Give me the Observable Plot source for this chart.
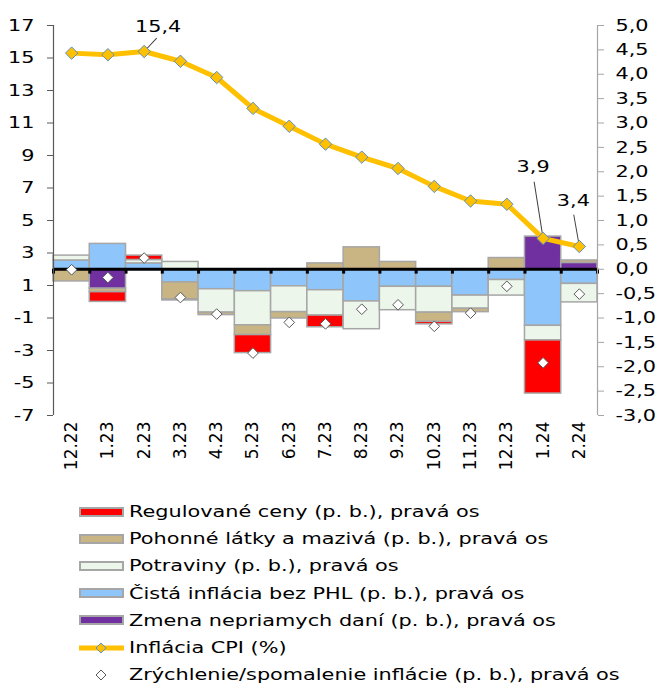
<!DOCTYPE html>
<html><head><meta charset="utf-8">
<script src="https://cdn.jsdelivr.net/npm/d3@7"></script>
<script src="https://cdn.jsdelivr.net/npm/@observablehq/plot@0.6"></script>
<style>
body{margin:0;background:#fff;font-family:"DejaVu Sans",Verdana,sans-serif;}
#legend{padding-left:79px;padding-top:8px;}
.row{display:flex;align-items:center;height:27.2px;font-size:16px;color:#000;white-space:nowrap;}
.row span{display:inline-block;transform:scaleX(1.3);transform-origin:0 50%;}
.sw{width:45px;height:10px;margin-right:5px;box-sizing:border-box;border:2px solid #a6a6a6;flex:none;}
.sv{width:45px;height:14px;margin-right:5px;flex:none;}
</style></head><body><div id="chart"></div><div id="legend"></div>
<script>
// ---- data ----
const categories = ["12.22","1.23","2.23","3.23","4.23","5.23","6.23","7.23","8.23","9.23","10.23","11.23","12.23","1.24","2.24"];
const regulovaneCeny = [0, -0.20, 0.09, -0.02, 0, -0.37, 0, -0.24, 0, 0, -0.05, 0, 0, -1.09, 0];
const pohonneLatky   = [-0.25, -0.07, 0, -0.35, -0.05, -0.20, -0.13, 0.12, 0.45, 0.15, -0.19, -0.07, 0.23, 0, 0.05];
const potraviny      = [0.10, 0, 0.07, 0.15, -0.48, -0.70, -0.53, -0.52, -0.57, -0.48, -0.53, -0.27, -0.32, -0.30, -0.38];
const cistaInflacia  = [0.18, 0.52, 0.12, -0.27, -0.41, -0.45, -0.35, -0.43, -0.66, -0.36, -0.36, -0.54, -0.22, -1.16, -0.30];
const zmenaDani      = [0, -0.40, 0, 0, 0, 0, 0, 0, 0, 0, 0, 0, 0, 0.67, 0.13];
const zrychlenie     = [-0.01, -0.17, 0.23, -0.58, -0.92, -1.72, -1.09, -1.12, -0.82, -0.73, -1.17, -0.90, -0.35, -1.92, -0.51];
const inflaciaCPI    = [15.3, 15.2, 15.4, 14.8, 13.8, 11.9, 10.8, 9.7, 8.9, 8.2, 7.1, 6.2, 6.0, 3.9, 3.4];
const leftTicks  = [17, 15, 13, 11, 9, 7, 5, 3, 1, -1, -3, -5, -7];
const rightTicks = [5, 4.5, 4, 3.5, 3, 2.5, 2, 1.5, 1, 0.5, 0, -0.5, -1, -1.5, -2, -2.5, -3];
const annotCats   = ["2.23", "1.24", "2.24"];
const annotLabels = ["15,4", "3,9", "3,4"];

// ---- series definitions (stack order from zero outward) ----
const series = [
  {name: "Zmena nepriamych daní (p. b.), pravá os", values: zmenaDani, color: "#7030a0"},
  {name: "Čistá inflácia bez PHL (p. b.), pravá os", values: cistaInflacia, color: "#8ec5fa"},
  {name: "Potraviny (p. b.), pravá os", values: potraviny, color: "#ecf6ea"},
  {name: "Pohonné látky a mazivá (p. b.), pravá os", values: pohonneLatky, color: "#c9b483"},
  {name: "Regulované ceny (p. b.), pravá os", values: regulovaneCeny, color: "#ff0000"}
];
const bars = [];
categories.forEach((c, i) => series.forEach(s => { if (s.values[i] !== 0) bars.push({i, c, key: s.name, v: s.values[i]}); }));
const points = categories.map((c, i) => ({i, c, cpi: inflaciaCPI[i], acc: zrychlenie[i]}));
const annots = annotCats.map((c, k) => { const i = categories.indexOf(c); return {i, c, cpi: inflaciaCPI[i], label: annotLabels[k]}; });
// annotation placement styles (pixels)
const annotStyle = [{dx: 14, dy: -25, len: 18, rot: 43}, {dx: -10, dy: -72, len: 57, rot: -9}, {dx: -6, dy: -46, len: 32, rot: -10}];

const toRight = v => (v - 2) / 3;   // left axis (%) -> right axis (p. b.)
const cx = d => d.i + 0.5;
const lineShape = {draw(ctx, l) { ctx.moveTo(0, 0); ctx.lineTo(0, -l); }};

const chart = Plot.plot({
  width: 659, height: 490,
  marginLeft: 53, marginRight: 62, marginTop: 25, marginBottom: 75,
  style: {fontFamily: "DejaVu Sans, Verdana, sans-serif", fontSize: "16px", color: "#000", background: "#fff", overflow: "visible"},
  x: {type: "linear", domain: [0, categories.length], axis: null},
  y: {domain: [-3, 5], axis: null},
  color: {domain: series.map(s => s.name), range: series.map(s => s.color)},
  marks: [
    Plot.rectY(bars, Plot.stackY({x: "i", x1: "i", x2: d => d.i + 1, y: "v", fill: "key", stroke: "#a6a6a6", strokeWidth: 1.5})),
    Plot.ruleY([0], {stroke: "#000", strokeWidth: 3}),
    Plot.ruleX(d3.range(0, categories.length + 1), {y1: 0, y2: -0.1, stroke: "#000", strokeWidth: 3}),
    Plot.ruleX([0], {stroke: "#595959", strokeWidth: 1.2}),
    Plot.ruleX([categories.length], {stroke: "#a6a6a6", strokeWidth: 1.2}),
    Plot.axisY(leftTicks.map(toRight), {anchor: "left", label: null, tickSize: 6, tickPadding: 13, stroke: "#595959", fill: "#000", tickFormat: d => String(Math.round(d * 3 + 2)), fontSize: 16}),
    Plot.axisY(rightTicks, {anchor: "right", label: null, tickSize: 6, tickPadding: 12, stroke: "#a6a6a6", fill: "#000", tickFormat: d => d.toFixed(1).replace(".", ","), fontSize: 16}),
    Plot.axisX(categories.map((c, i) => i + 0.5), {anchor: "bottom", label: null, tickSize: 0, tickPadding: 6, tickRotate: -90, tickFormat: d => categories[Math.floor(d)], fill: "#000", fontSize: 17}),
    Plot.dot(points, {x: cx, y: "acc", symbol: "diamond2", r: 4.8, fill: "#fff", stroke: "#595959", strokeWidth: 1}),
    Plot.line(points, {x: cx, y: d => toRight(d.cpi), stroke: "#ffc000", strokeWidth: 5}),
    ...annots.map((a, k) => Plot.vector([a], {x: cx, y: d => toRight(d.cpi), length: annotStyle[k].len, rotate: annotStyle[k].rot, anchor: "start", shape: lineShape, stroke: "#404040", strokeWidth: 1})),
    Plot.dot(points, {x: cx, y: d => toRight(d.cpi), symbol: "diamond2", r: 5.6, fill: "#ffc000", stroke: "#5b8fc7", strokeWidth: 1}),
    ...annots.map((a, k) => Plot.text([a], {x: cx, y: d => toRight(d.cpi), text: "label", dx: annotStyle[k].dx, dy: annotStyle[k].dy, fontSize: 16, fill: "#000"}))
  ]
});
document.getElementById("chart").appendChild(chart);

// wide (Verdana-like) lettering: stretch horizontal texts about their anchor
const stretch = 1.3;
chart.querySelectorAll("text").forEach(t => {
  if (t.closest('[aria-label="x-axis tick label"]')) return;
  const b = t.getBBox();
  if (!b.width) return;
  const anchor = getComputedStyle(t).textAnchor;
  const ax = anchor === "end" ? b.x + b.width : anchor === "middle" ? b.x + b.width / 2 : b.x;
  const tr = t.getAttribute("transform") || "";
  t.setAttribute("transform", `${tr} translate(${ax},0) scale(${stretch},1) translate(${-ax},0)`);
});

// ---- legend ----
const legendItems = [...series].reverse();
const leg = document.getElementById("legend");
legendItems.forEach(s => {
  const r = document.createElement("div"); r.className = "row";
  r.innerHTML = `<div class="sw" style="background:${s.color}"></div><span>${s.name}</span>`;
  leg.appendChild(r);
});
{
  const r = document.createElement("div"); r.className = "row";
  r.innerHTML = `<svg class="sv" viewBox="0 0 45 14"><line x1="0" y1="7" x2="45" y2="7" stroke="#ffc000" stroke-width="5"/><polygon points="22,2 27,7 22,12 17,7" fill="#ffc000" stroke="#5b8fc7" stroke-width="1"/></svg><span>Inflácia CPI (%)</span>`;
  leg.appendChild(r);
  const r2 = document.createElement("div"); r2.className = "row";
  r2.innerHTML = `<svg class="sv" viewBox="0 0 45 14"><polygon points="22,2 27,7 22,12 17,7" fill="#fff" stroke="#595959" stroke-width="1"/></svg><span>Zrýchlenie/spomalenie inflácie (p. b.), pravá os</span>`;
  leg.appendChild(r2);
}
</script>
</body></html>
